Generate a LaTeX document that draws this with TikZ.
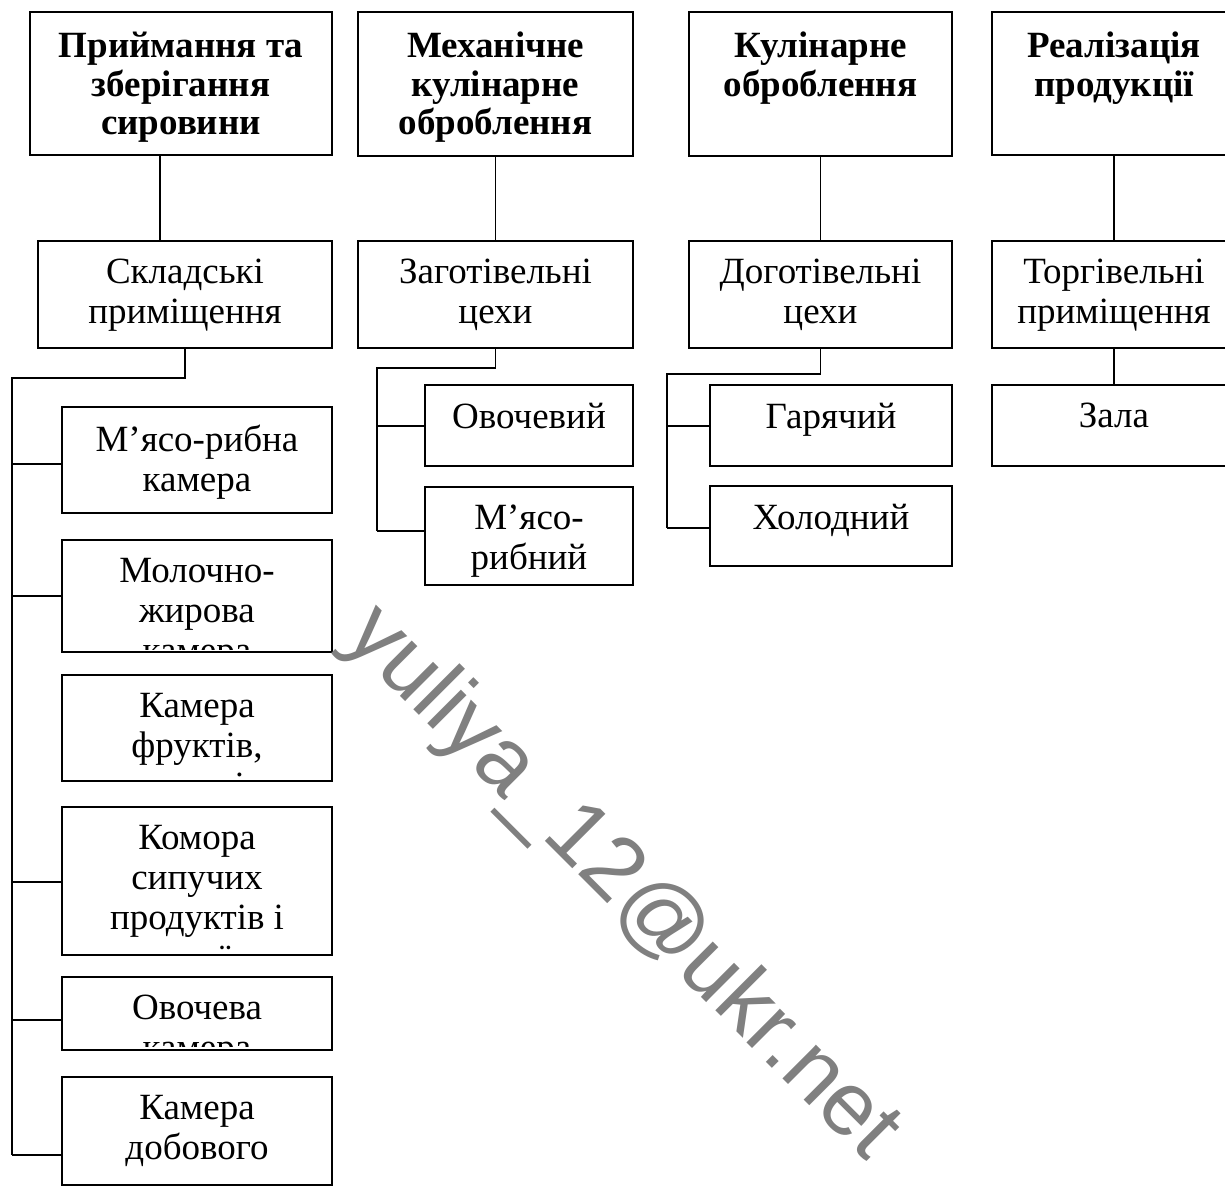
\documentclass[tikz,border=0pt]{standalone}
\usepackage{fontspec}
\setmainfont{Liberation Serif}
\newfontfamily\wmfont{Liberation Sans}
\usetikzlibrary{calc}
\definecolor{wmgray}{RGB}{128,128,128}
\tikzset{
  boxst/.style={draw=black, line width=1.4pt, inner sep=0pt, outer sep=0pt},
  txtreg/.style={align=center, inner sep=0pt, font=\fontsize{37}{40}\selectfont},
  txtbold/.style={align=center, inner sep=0pt, font=\fontsize{37}{38.5}\selectfont\bfseries},
  conn/.style={draw=black, line width=1.6pt},
  wmark/.style={text=wmgray, inner sep=0pt, font=\wmfont\fontsize{90}{90}\selectfont},
}
% name, x1, y1, x2, y2, text style, text offset, bottom clip inset, text
\newcommand\mybox[9]{%
  \node[boxst, anchor=north west, minimum width={#4-#2}, minimum height={#5-#3}] (#1) at (#2,#3) {};
  \begin{scope}
    \clip ([shift={(1.5pt,-1.5pt)}]#1.north west) rectangle ([shift={(-1.5pt,#8)}]#1.south east);
    \node[#6, anchor=north] (#1t) at ([yshift=-#7]#1.north) {#9};
  \end{scope}%
}
\begin{document}
\begin{tikzpicture}[x=1pt, y=-1pt]
\useasboundingbox (0,0) rectangle (1225,1200);
\clip (0,0) rectangle (1225,1200);
\fill[white] (0,0) rectangle (1225,1200);

% top row
\mybox{A}{30}{12}{332}{155}{txtbold}{20pt}{1.5pt}{Приймання та\\зберігання\\сировини}
\mybox{B}{358}{12}{633}{156}{txtbold}{20pt}{1.5pt}{Механічне\\кулінарне\\оброблення}
\mybox{C}{689}{12}{952}{156}{txtbold}{20pt}{1.5pt}{Кулінарне\\оброблення}
\mybox{D}{992}{12}{1236}{155}{txtbold}{20pt}{1.5pt}{Реалізація\\продукції}

% second row
\mybox{S1}{38}{241}{332}{348}{txtreg}{18pt}{1.5pt}{Складські\\приміщення}
\mybox{S2}{358}{241}{633}{348}{txtreg}{18pt}{1.5pt}{Заготівельні\\цехи}
\mybox{S3}{689}{241}{952}{348}{txtreg}{18pt}{1.5pt}{Доготівельні\\цехи}
\mybox{S4}{992}{241}{1236}{348}{txtreg}{18pt}{1.5pt}{Торгівельні\\приміщення}

% left column leaves
\mybox{L1}{62}{407}{332}{513}{txtreg}{18pt}{1.5pt}{М’ясо-рибна\\камера}
\mybox{L2}{62}{540}{332}{652}{txtreg}{18pt}{2.5pt}{Молочно-\\жирова\\камера}
\mybox{L3}{62}{675}{332}{781}{txtreg}{18pt}{4pt}{Камера\\фруктів,\\зелені}
\mybox{L4}{62}{807}{332}{955}{txtreg}{18pt}{5pt}{Комора\\сипучих\\продуктів і\\напоїв}
\mybox{L5}{62}{977}{332}{1050}{txtreg}{18pt}{3.5pt}{Овочева\\камера}
\mybox{L6}{62}{1077}{332}{1185}{txtreg}{18pt}{1.5pt}{Камера\\добового}

% second column leaves
\mybox{O1}{425}{385}{633}{466}{txtreg}{18pt}{1.5pt}{Овочевий}
\mybox{O2}{425}{487}{633}{585}{txtreg}{18pt}{1.5pt}{М’ясо-\\рибний}

% third column leaves
\mybox{H1}{710}{385}{952}{466}{txtreg}{18pt}{1.5pt}{Гарячий}
\mybox{H2}{710}{486}{952}{566}{txtreg}{18pt}{1.5pt}{Холодний}

% fourth column leaf
\mybox{Z}{992}{385}{1236}{466}{txtreg}{18pt}{1.5pt}{Зала}

% vertical connectors top -> second row
\draw[conn] ([xshift=130pt]A.south west) -- ([xshift=130pt]A.south west |- S1.north);
\draw[conn] (B.south) -- (S2.north);
\draw[conn] (C.south) -- (S3.north);
\draw[conn] ([xshift=122pt]D.south west) -- ([xshift=122pt]S4.north west);

% left trunk
\coordinate (tA) at (12,378);
\coordinate (a1) at (12,464);
\coordinate (a2) at (12,596);
\coordinate (a4) at (12,882);
\coordinate (a5) at (12,1020);
\coordinate (a6) at (12,1155);
\draw[conn] ([xshift=147pt]S1.south west) |- (tA) -- (a6);
\draw[conn] (a1) -- (a1 -| L1.west);
\draw[conn] (a2) -- (a2 -| L2.west);
\draw[conn] (a4) -- (a4 -| L4.west);
\draw[conn] (a5) -- (a5 -| L5.west);
\draw[conn] (a6) -- (a6 -| L6.west);

% second trunk
\coordinate (tB) at (377,368);
\coordinate (b1) at (377,426);
\coordinate (b2) at (377,531);
\draw[conn] (S2.south) |- (tB) -- (b2);
\draw[conn] (b1) -- (b1 -| O1.west);
\draw[conn] (b2) -- (b2 -| O2.west);

% third trunk
\coordinate (tC) at (667,374);
\coordinate (c1) at (667,426);
\coordinate (c2) at (667,528);
\draw[conn] (S3.south) |- (tC) -- (c2);
\draw[conn] (c1) -- (c1 -| H1.west);
\draw[conn] (c2) -- (c2 -| H2.west);

% fourth
\draw[conn] ([xshift=122pt]S4.south west) -- ([xshift=122pt]Z.north west);

% watermark
\node[wmark, rotate=-45] (wm) at (621,884) {yuliya\_12@ukr.net};
\end{tikzpicture}
\end{document}
